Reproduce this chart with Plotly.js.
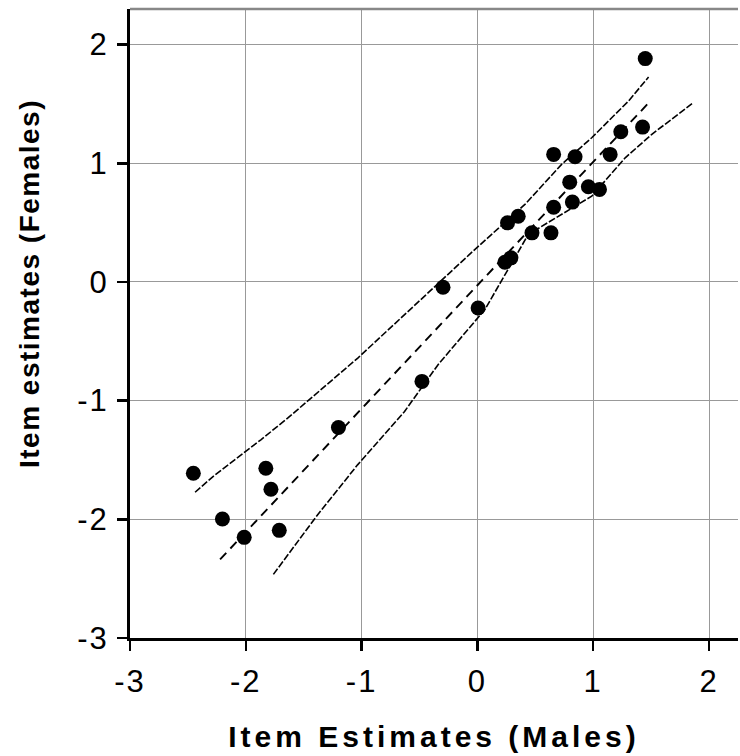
<!DOCTYPE html>
<html>
<head>
<meta charset="utf-8">
<script src="https://cdn.plot.ly/plotly-3.0.1.min.js"></script>
<style>
html,body{margin:0;padding:0;background:#fff;}
.xtitle{letter-spacing:4px;}
.ytitle{letter-spacing:1.5px;}
.xtick text,.ytick text{letter-spacing:2px;}
</style>
</head>
<body>
<div id="chart" style="width:740px;height:756px;"></div>
<script>
// Item estimates: males (x) vs females (y)
const malesX = [1.449, 1.426, 1.238, 1.146, 0.843, 0.658, 0.797, 0.958, 1.054, 0.820, 0.658,
  0.352, 0.260, 0.471, 0.635, 0.289, 0.237, -0.297, 0.006,
  -0.479, -1.200, -2.453, -1.827, -1.783, -2.202, -2.014, -1.711];
const femalesY = [1.882, 1.305, 1.266, 1.075, 1.055, 1.075, 0.841, 0.802, 0.780, 0.673, 0.630,
  0.554, 0.498, 0.414, 0.414, 0.203, 0.166, -0.045, -0.219,
  -0.838, -1.226, -1.612, -1.570, -1.747, -1.997, -2.152, -2.093];

// Fitted line
const fitX = [-2.222, 1.467];
const fitY = [-2.338, 1.497];

// Upper band
const upperX = [-2.438, -2.273, -1.870, -1.639, -1.033, -0.500, -0.023, 0.410, 0.727, 0.987, 1.305, 1.478];
const upperY = [-1.772, -1.631, -1.330, -1.148, -0.641, -0.155, 0.273, 0.653, 0.991, 1.215, 1.525, 1.727];

// Lower band
const lowerX = [-1.762, -1.554, -1.381, -1.035, -0.629, -0.340, 0.064, 0.439, 0.987, 1.276, 1.506, 1.853];
const lowerY = [-2.464, -2.188, -1.963, -1.541, -1.091, -0.697, -0.233, 0.400, 0.723, 1.046, 1.244, 1.502];

const xTicks = [-3, -2, -1, 0, 1, 2];
const yTicks = [-3, -2, -1, 0, 1, 2];

const FONT = 'Liberation Sans, Arial, sans-serif';

const traces = [
  {x: upperX, y: upperY, mode: 'lines', line: {color: '#000', width: 1.6, dash: '7px,2px'}, hoverinfo: 'skip'},
  {x: lowerX, y: lowerY, mode: 'lines', line: {color: '#000', width: 1.6, dash: '7px,2px'}, hoverinfo: 'skip'},
  {x: fitX, y: fitY, mode: 'lines', line: {color: '#000', width: 1.9, dash: '9px,6px'}, hoverinfo: 'skip'},
  {x: malesX, y: femalesY, mode: 'markers', marker: {color: '#000', size: 15, symbol: 'circle'}}
];

const layout = {
  width: 740, height: 756,
  margin: {l: 130, r: 2, t: 9, b: 118},
  paper_bgcolor: '#fff', plot_bgcolor: '#fff',
  showlegend: false,
  font: {family: FONT, color: '#000'},
  xaxis: {
    range: [-3, 2.25], tickvals: xTicks, ticktext: xTicks.map(String),
    showgrid: true, gridcolor: '#999', gridwidth: 1, zeroline: false,
    showline: true, linecolor: '#000', linewidth: 3,
    ticks: 'outside', ticklen: 10, tickwidth: 2.5, tickcolor: '#000',
    ticklabelstandoff: 4,
    tickfont: {size: 31, family: FONT, color: '#000'},
    title: {text: '<b>Item Estimates (Males)</b>', font: {size: 30, family: FONT, color: '#000'}, standoff: 28}
  },
  yaxis: {
    range: [-3, 2.3], tickvals: yTicks, ticktext: yTicks.map(String),
    showgrid: true, gridcolor: '#999', gridwidth: 1, zeroline: false,
    showline: true, linecolor: '#000', linewidth: 3,
    ticks: 'outside', ticklen: 10, tickwidth: 2.5, tickcolor: '#000',
    ticklabelstandoff: 2,
    tickfont: {size: 31, family: FONT, color: '#000'},
    title: {text: '<b>Item estimates (Females)</b>', font: {size: 28, family: FONT, color: '#000'}, standoff: 18}
  },
  shapes: [
    {type: 'line', xref: 'paper', yref: 'paper', x0: 0, x1: 1, y0: 1, y1: 1, line: {color: '#888', width: 2.5}}
  ]
};

Plotly.newPlot('chart', traces, layout, {displayModeBar: false, staticPlot: true}).then(function () {
  // the reference's vertical title sits above the plot's centre
  const yt = document.querySelector('.g-ytitle');
  if (yt) yt.setAttribute('transform', 'translate(-12,-40)');
});
</script>
</body>
</html>
